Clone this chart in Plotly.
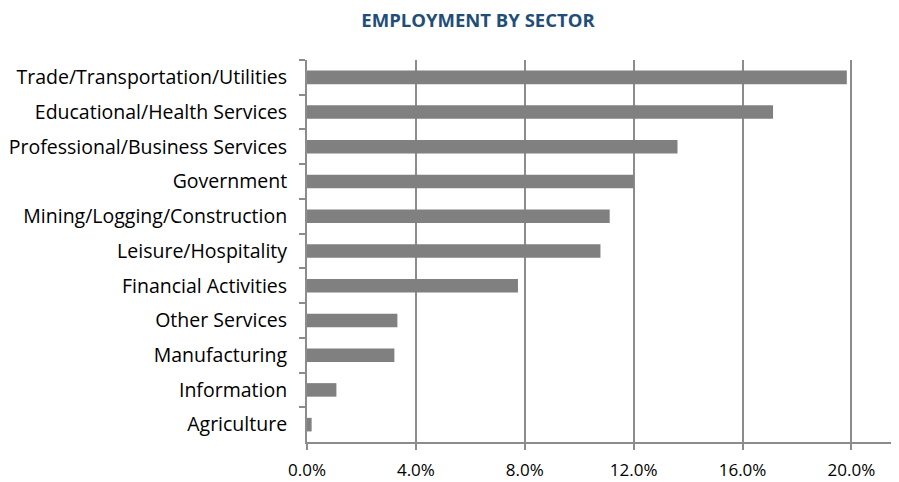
import plotly.graph_objects as go

sectors = [
    "Trade/Transportation/Utilities",
    "Educational/Health Services",
    "Professional/Business Services",
    "Government",
    "Mining/Logging/Construction",
    "Leisure/Hospitality",
    "Financial Activities",
    "Other Services",
    "Manufacturing",
    "Information",
    "Agriculture",
]
shares = [0.1983, 0.1712, 0.1361, 0.1200, 0.1112, 0.1078, 0.0775, 0.0332, 0.0321, 0.0108, 0.0017]
x_ticks = [0.0, 0.04, 0.08, 0.12, 0.16, 0.20]

# page body has an 8px default margin; size the figure to fit the 899x482 window
W, H = 891, 474
L, R, T, B = 299, 1, 52, 40

fig = go.Figure(go.Bar(
    x=shares, y=sectors, orientation="h",
    marker=dict(color="#808080", line=dict(width=0)),
    width=0.39,
))

fig.update_layout(
    width=W, height=H,
    margin=dict(l=L, r=R, t=T, b=B, pad=0),
    paper_bgcolor="white", plot_bgcolor="white",
    showlegend=False,
    font=dict(family="Open Sans", size=17, color="#000000"),
    title=dict(text="<b>EMPLOYMENT BY SECTOR</b>", x=0.5275, xanchor="center",
               y=1 - 12.5/H, yanchor="middle",
               font=dict(family="Open Sans", size=18.5, color="#1F4E79")),
    xaxis=dict(
        range=[0, 0.2171], tickvals=x_ticks, tickformat=".1%",
        showgrid=True, gridcolor="#8c8c8c", gridwidth=2,
        showline=True, linecolor="#8c8c8c", linewidth=2,
        ticks="outside", ticklen=6, tickcolor="#8c8c8c", tickwidth=2,
        zeroline=False, fixedrange=True,
        ticklabelstandoff=6,
        tickfont=dict(size=17),
    ),
    yaxis=dict(
        categoryorder="array", categoryarray=sectors, autorange="reversed",
        showline=True, linecolor="#8c8c8c", linewidth=2,
        ticks="outside", ticklen=6, tickcolor="#8c8c8c", tickwidth=2,
        tickson="boundaries", showgrid=False,
        ticklabelstandoff=14,
        tickfont=dict(size=19.5),
    ),
)

fig.write_html("out.html")
